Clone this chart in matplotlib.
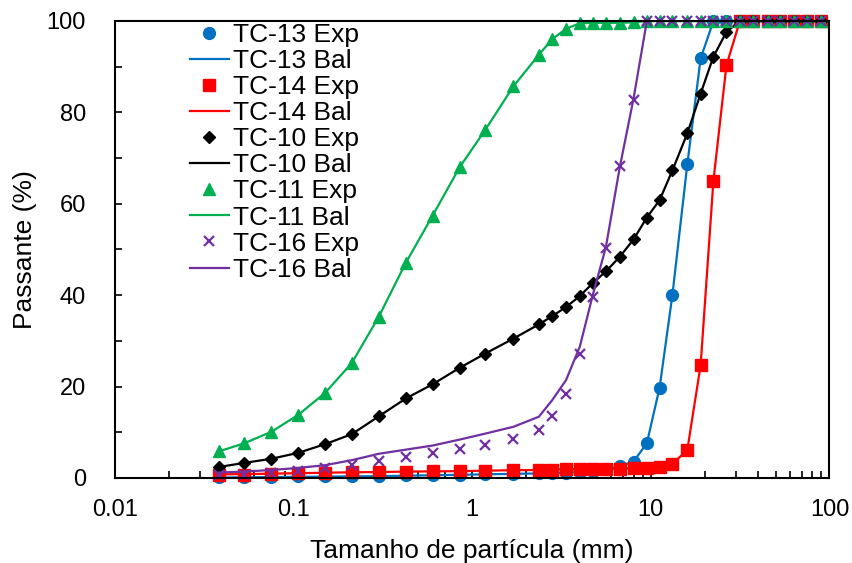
import matplotlib
matplotlib.use('Agg')
import matplotlib.pyplot as plt
from matplotlib.ticker import MultipleLocator, LogLocator, FormatStrFormatter, NullFormatter

plt.rcParams['font.family'] = ['Liberation Sans', 'DejaVu Sans']

# sieve sizes (mm)
sizes = [0.038, 0.053, 0.075, 0.106, 0.15, 0.212, 0.3, 0.425, 0.6, 0.85,
         1.18, 1.7, 2.36, 2.8, 3.35, 4.0, 4.75, 5.6, 6.7, 8.0,
         9.5, 11.2, 13.2, 16, 19, 22.4, 26.5, 31.5, 37.5, 45,
         53, 63, 75, 90]

tc13_exp = [0.2, 0.25, 0.3, 0.35, 0.4, 0.45, 0.5, 0.55, 0.6, 0.7,
            0.8, 0.9, 1.0, 1.1, 1.2, 1.3, 1.5, 1.9, 2.6, 3.6,
            7.7, 19.8, 40.0, 68.6, 91.8, 100, 100, 100, 100, 100,
            100, 100, 100, 100]
tc13_bal = [0.1, 0.15, 0.2, 0.25, 0.3, 0.35, 0.4, 0.5, 0.6, 0.7,
            0.8, 0.9, 1.0, 1.1, 1.2, 1.3, 1.5, 1.9, 2.6, 3.6,
            7.6, 19.8, 40.0, 68.6, 91.8, 100, 100, 100, 100, 100,
            100, 100, 100, 100]

tc14_exp = [0.7, 0.7, 0.8, 1.0, 1.15, 1.25, 1.3, 1.4, 1.45, 1.5,
            1.6, 1.7, 1.75, 1.85, 1.9, 1.9, 1.95, 2.0, 2.05, 2.15,
            2.25, 2.45, 3.1, 6.1, 24.7, 65.0, 90.3, 100, 100, 100,
            100, 100, 100, 100]
tc14_bal = [0.8, 0.85, 0.95, 1.05, 1.15, 1.25, 1.3, 1.4, 1.45, 1.5,
            1.6, 1.7, 1.75, 1.85, 1.9, 1.9, 1.95, 2.0, 2.05, 2.15,
            2.25, 2.45, 3.1, 6.1, 24.7, 65.0, 90.3, 100, 100, 100,
            100, 100, 100, 100]

tc10_exp = [2.4, 3.3, 4.2, 5.5, 7.4, 9.6, 13.5, 17.4, 20.5, 24.1,
            27.2, 30.5, 33.6, 35.4, 37.4, 39.8, 42.7, 45.2, 48.4, 52.2,
            57.0, 60.8, 67.3, 75.4, 84.1, 92.2, 97.6, 100, 100, 100,
            100, 100, 100, 100]
tc10_bal = [2.4, 3.3, 4.2, 5.5, 7.4, 9.6, 13.5, 17.4, 20.5, 24.1,
            27.2, 30.5, 33.6, 35.4, 37.4, 39.8, 42.7, 45.2, 48.4, 52.2,
            57.0, 60.8, 67.3, 75.4, 84.1, 92.2, 97.6, 100, 100, 100,
            100, 100, 100, 100]

tc11_exp = [5.8, 7.6, 10.1, 13.8, 18.6, 25.2, 35.3, 47.1, 57.4, 68.0,
            76.1, 85.7, 92.6, 96.0, 98.3, 99.5, 99.6, 99.6, 99.6, 99.7,
            100, 100, 100, 100, 100, 100, 100, 100, 100, 100,
            100, 100, 100, 100]
tc11_bal = [5.8, 7.6, 10.1, 13.8, 18.6, 25.2, 35.3, 47.1, 57.4, 68.0,
            76.1, 85.7, 92.6, 96.0, 98.3, 99.5, 99.6, 99.6, 99.6, 99.7,
            100, 100, 100, 100, 100, 100, 100, 100, 100, 100,
            100, 100, 100, 100]

tc16_exp = [0.7, 0.7, 1.0, 1.6, 2.1, 2.8, 3.7, 4.6, 5.5, 6.3,
            7.3, 8.5, 10.4, 13.6, 18.4, 27.1, 39.5, 50.3, 68.3, 82.7,
            100, 100, 100, 100, 100, 100, 100, 100, 100, 100,
            100, 100, 100, 100]
tc16_bal = [1.2, 1.4, 1.75, 2.2, 2.8, 3.9, 5.3, 6.2, 7.1, 8.4,
            9.7, 11.2, 13.4, 17.0, 21.4, 28.7, 40.3, 50.5, 68.0, 83.0,
            100, 100, 100, 100, 100, 100, 100, 100, 100, 100,
            100, 100, 100, 100]

series = [
    ('TC-13', tc13_exp, tc13_bal, '#0070C0', 'o', 8.5),
    ('TC-14', tc14_exp, tc14_bal, '#FF0000', 's', 8),
    ('TC-10', tc10_exp, tc10_bal, '#000000', 'D', 6.5),
    ('TC-11', tc11_exp, tc11_bal, '#00B050', '^', 8.5),
    ('TC-16', tc16_exp, tc16_bal, '#7030A0', 'x', 7.5),
]

fig = plt.figure(figsize=(8.53, 5.63), dpi=100)
ax = fig.add_axes([0.1348, 0.151, 0.8376, 0.8117])

for name, exp, bal, c, m, ms in series:
    mew = 1.6 if m == 'x' else 1
    ax.plot(sizes, exp, linestyle='none', marker=m, color=c, markersize=ms,
            markeredgewidth=mew, label=name + ' Exp', clip_on=False)
    ax.plot(sizes, bal, '-', color=c, linewidth=1.6, label=name + ' Bal')

ax.set_xscale('log')
ax.set_xlim(0.01, 100)
ax.set_ylim(0, 100)
ax.xaxis.set_major_formatter(FormatStrFormatter('%g'))
ax.xaxis.set_minor_locator(LogLocator(base=10, subs=range(2, 10)))
ax.xaxis.set_minor_formatter(NullFormatter())
ax.yaxis.set_major_locator(MultipleLocator(20))
ax.yaxis.set_minor_locator(MultipleLocator(10))
ax.tick_params(which='both', direction='in', length=5, width=1.2,
               top=False, right=False, labelsize=17)
ax.tick_params(axis='x', pad=15)
ax.tick_params(axis='y', pad=21)
for s in ax.spines.values():
    s.set_linewidth(1.5)

ax.set_xlabel('Tamanho de partícula (mm)', size=19, labelpad=13)
ax.set_ylabel('Passante (%)', size=19, labelpad=7)

ax.legend(loc='upper left', bbox_to_anchor=(0.087, 1.025), frameon=False,
          fontsize=19, labelspacing=0.08, handlelength=1.45, handletextpad=0.15,
          borderpad=0)

fig.savefig('out.png', dpi=100)
